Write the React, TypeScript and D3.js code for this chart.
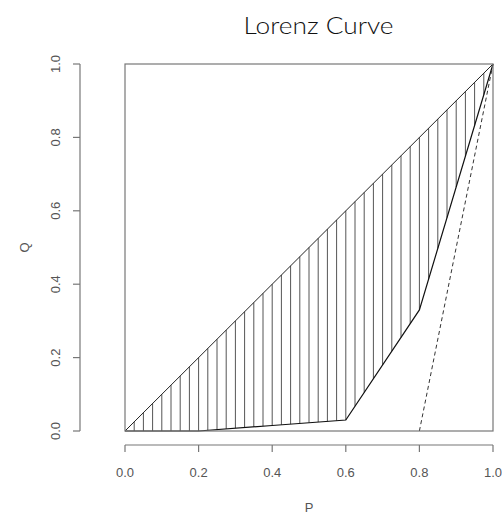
import React from "react";
import * as d3 from "d3";

const curveP = [0, 0.2, 0.4, 0.6, 0.8, 1.0];
const curveL = [0, 0, 0.015, 0.03, 0.33, 1.0];
const dashedP = [0.8, 1.0];
const dashedL = [0, 1.0];
const xTicks = [0, 0.2, 0.4, 0.6, 0.8, 1.0];
const yTicks = [0, 0.2, 0.4, 0.6, 0.8, 1.0];
const hatchStep = 0.025;

const W = 502, H = 516;
const left = 125, right = 493, top = 64, bottom = 431;

export default function App() {
  const x = d3.scaleLinear().domain([0, 1]).range([left, right]);
  const y = d3.scaleLinear().domain([0, 1]).range([bottom, top]);
  const pts: [number, number][] = curveP.map((p, i) => [p, curveL[i]]);
  const line = d3.line<[number, number]>().x(d => x(d[0])).y(d => y(d[1]));
  const interpL = (p: number) => {
    for (let i = 1; i < curveP.length; i++) {
      if (p <= curveP[i]) {
        const t = (p - curveP[i - 1]) / (curveP[i] - curveP[i - 1]);
        return curveL[i - 1] + t * (curveL[i] - curveL[i - 1]);
      }
    }
    return 1;
  };
  const hatch = d3.range(hatchStep, 1, hatchStep);
  const dashedPts: [number, number][] = dashedP.map((p, i) => [p, dashedL[i]]);
  const font = "'Liberation Sans', Arial, sans-serif";
  return (
    <svg width={W} height={H} style={{ position: "absolute", left: 0, top: 0, background: "#fff" }}>
      <text x={318.5} y={34} textAnchor="middle" fontFamily="'Lato', 'Open Sans', sans-serif" fontWeight={300} fontSize={23} fill="#111" textLength={150} lengthAdjust="spacingAndGlyphs">Lorenz Curve</text>
      {hatch.map((p, i) => (
        <line key={i} x1={x(p)} x2={x(p)} y1={y(p)} y2={y(interpL(p))} stroke="#555" strokeWidth={1} />
      ))}
      <line x1={x(0)} y1={y(0)} x2={x(1)} y2={y(1)} stroke="#222" strokeWidth={1} />
      <path d={line(pts) || ""} fill="none" stroke="#111" strokeWidth={1.2} />
      <path d={line(dashedPts) || ""} fill="none" stroke="#333" strokeWidth={1} strokeDasharray="4,3" />
      <rect x={left} y={top} width={right - left} height={bottom - top} fill="none" stroke="#777" strokeWidth={1.2} />
      {/* x axis */}
      <line x1={x(0)} x2={x(1)} y1={445} y2={445} stroke="#777" strokeWidth={1.2} />
      {xTicks.map((t, i) => (
        <g key={i}>
          <line x1={x(t)} x2={x(t)} y1={445} y2={452} stroke="#777" strokeWidth={1.2} />
          <text x={x(t)} y={477} textAnchor="middle" fontFamily={font} fontSize={13} fill="#555">{t.toFixed(1)}</text>
        </g>
      ))}
      <text x={x(0.5)} y={512} textAnchor="middle" fontFamily={font} fontSize={13} fill="#555">P</text>
      {/* y axis */}
      <line x1={80} x2={80} y1={y(0)} y2={y(1)} stroke="#777" strokeWidth={1.2} />
      {yTicks.map((t, i) => (
        <g key={i}>
          <line x1={73} x2={80} y1={y(t)} y2={y(t)} stroke="#777" strokeWidth={1.2} />
          <text transform={`translate(60,${y(t)}) rotate(-90)`} textAnchor="middle" fontFamily={font} fontSize={13} fill="#555">{t.toFixed(1)}</text>
        </g>
      ))}
      <text transform={`translate(29,${y(0.5)}) rotate(-90)`} textAnchor="middle" fontFamily={font} fontSize={13} fill="#555">Q</text>
    </svg>
  );
}
